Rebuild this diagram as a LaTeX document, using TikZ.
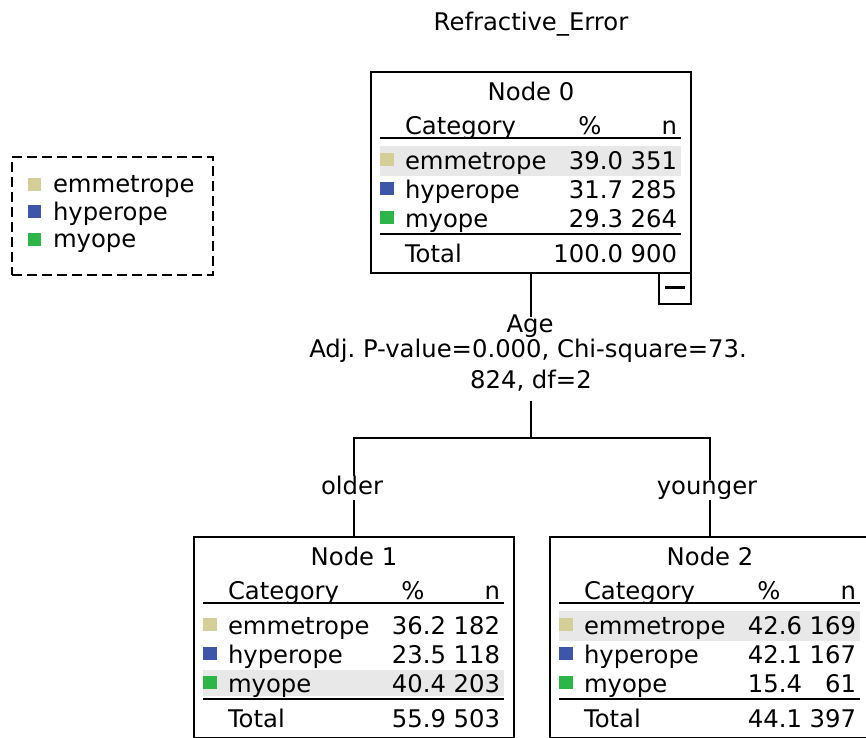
\documentclass[tikz,border=0pt]{standalone}
\usepackage{fontspec}
\setmainfont{DejaVu Sans}
\definecolor{cemm}{RGB}{212,206,153}
\definecolor{chyp}{RGB}{62,86,170}
\definecolor{cmyo}{RGB}{44,182,72}
\definecolor{cband}{RGB}{232,232,232}
\newcommand\catrow[6]{%
  \fill[#2] (9,{#6-16}) rectangle (23,{#6-3});
  \node[anchor=base west] (#1-#3-name) at (34,#6) {#3};
  \node[anchor=base east] (#1-#3-pct) at (252,#6) {#4};
  \node[anchor=base east] (#1-#3-n) at (306,#6) {#5};
}
\newcommand\nodehead[2]{%
  \node[anchor=base] (#1-title) at (160,28) {#2};
  \node[anchor=base west] (#1-cat) at (34,62) {Category};
  \node[anchor=base] (#1-pcth) at (219,62) {\%};
  \node[anchor=base east] (#1-nh) at (306,62) {n};
  \draw[rule] (9,66) -- (310,66);
  \draw[rule] (9,162) -- (310,162);
}
\begin{document}
\frenchspacing
\begin{tikzpicture}[x=1pt,y=-1pt,font=\fontsize{24.3}{28}\selectfont,
  every node/.style={inner sep=0pt,outer sep=0pt},
  treebox/.style={draw,line width=2.1pt,minimum width=320pt,minimum height=201pt,anchor=north west},
  rule/.style={line width=2.1pt},
  conn/.style={line width=2.1pt},
  legbox/.style={draw,line width=2.1pt,dash pattern=on 10pt off 5pt,minimum width=201pt,minimum height=118pt,anchor=north west}]
\useasboundingbox (0,0) rectangle (866,737);
\clip (0,0) rectangle (866,737);

% title
\node[anchor=base] (title) at (531,30) {Refractive\_Error};

% legend
\node[legbox] (legend) at (12,157) {};
\fill[cemm] (28,178) rectangle (41,191);
\fill[chyp] (28,205) rectangle (41,218);
\fill[cmyo] (28,233) rectangle (41,246);
\node[anchor=base west] (leg-emm) at (53,192) {emmetrope};
\node[anchor=base west] (leg-hyp) at (53,220) {hyperope};
\node[anchor=base west] (leg-myo) at (53,247) {myope};

% Node 0
\node[treebox] (n0) at (371,72) {};
\begin{scope}[shift={(371,72)}]
  \fill[cband] (9,74) rectangle (310,104);
  \nodehead{n0}{Node 0}
  \catrow{n0}{cemm}{emmetrope}{39.0}{351}{97}
  \catrow{n0}{chyp}{hyperope}{31.7}{285}{126}
  \catrow{n0}{cmyo}{myope}{29.3}{264}{155}
  \node[anchor=base west] (n0-tot) at (34,190) {Total};
  \node[anchor=base east] (n0-totp) at (252,190) {100.0};
  \node[anchor=base east] (n0-totn) at (306,190) {900};
\end{scope}
\node[draw,line width=2.1pt,minimum width=32pt,minimum height=31pt,anchor=north east] (n0-minus) at (n0.south east) {};
\draw[line width=2.4pt] ([xshift=-10pt,yshift=1pt]n0-minus.center) -- ([xshift=10pt,yshift=1pt]n0-minus.center);

% split labels
\node[anchor=base] (age) at (530,332) {Age};
\node[anchor=base] (stat1) at (528,357) {Adj. P-value=0.000, Chi-square=73.};
\node[anchor=base] (stat2) at (531,388) {824, df=2};
\node[anchor=base] (older) at (352,494) {older};
\node[anchor=base] (younger) at (707,494) {younger};

% Node 1
\node[treebox] (n1) at (194,537) {};
\begin{scope}[shift={(194,537)}]
  \fill[cband] (9,133) rectangle (310,159);
  \nodehead{n1}{Node 1}
  \catrow{n1}{cemm}{emmetrope}{36.2}{182}{97}
  \catrow{n1}{chyp}{hyperope}{23.5}{118}{126}
  \catrow{n1}{cmyo}{myope}{40.4}{203}{155}
  \node[anchor=base west] (n1-tot) at (34,190) {Total};
  \node[anchor=base east] (n1-totp) at (252,190) {55.9};
  \node[anchor=base east] (n1-totn) at (306,190) {503};
\end{scope}

% Node 2
\node[treebox] (n2) at (550,537) {};
\begin{scope}[shift={(550,537)}]
  \fill[cband] (9,74) rectangle (310,104);
  \nodehead{n2}{Node 2}
  \catrow{n2}{cemm}{emmetrope}{42.6}{169}{97}
  \catrow{n2}{chyp}{hyperope}{42.1}{167}{126}
  \catrow{n2}{cmyo}{myope}{15.4}{61}{155}
  \node[anchor=base west] (n2-tot) at (34,190) {Total};
  \node[anchor=base east] (n2-totp) at (252,190) {44.1};
  \node[anchor=base east] (n2-totn) at (306,190) {397};
\end{scope}

% connectors
\coordinate (split) at (531,438);
\coordinate (lsplit) at (n1.north |- split);
\coordinate (rsplit) at (n2.north |- split);
\draw[conn] (n0.south) -- ([yshift=-3pt]n0.south |- age.north);
\draw[conn] ([yshift=-10pt]stat2.south -| split) -- (split);
\draw[conn,line cap=rect] (lsplit) -- (rsplit);
\draw[conn] (lsplit) -- (lsplit |- older.north);
\draw[conn] (rsplit) -- (rsplit |- younger.north);
\draw[conn] ([yshift=-6pt]older.south -| lsplit) -- (n1.north);
\draw[conn] ([yshift=-6pt]older.south -| rsplit) -- (n2.north);
\end{tikzpicture}
\end{document}
